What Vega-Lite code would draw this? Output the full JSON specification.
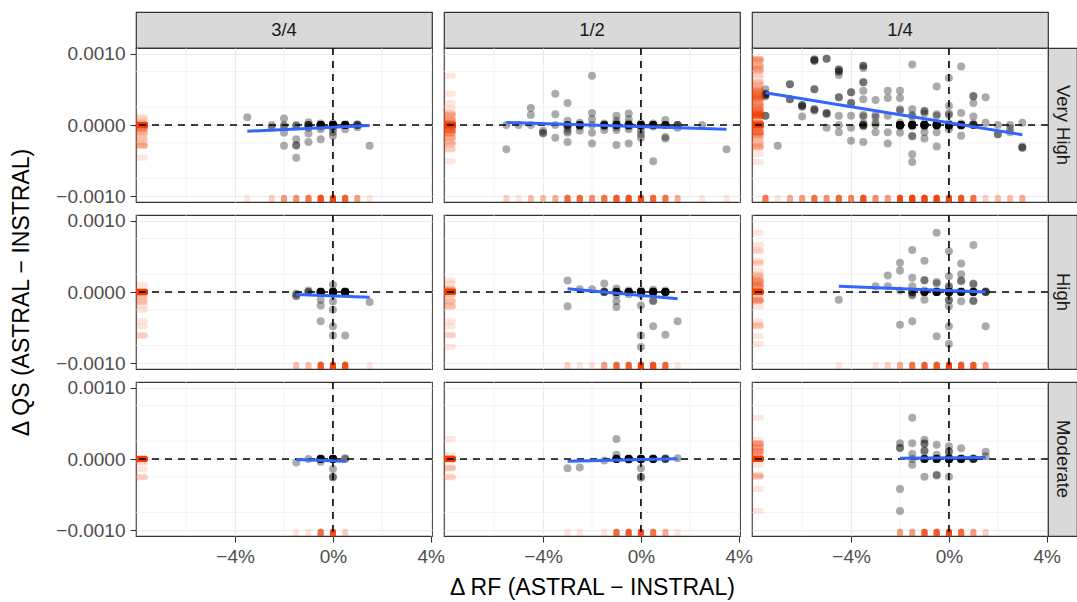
{
"$schema": "https://vega.github.io/schema/vega-lite/v6.json",
"background": "white",
"padding": {"left": 10, "top": 6, "right": 0, "bottom": 2},
"config": {
  "font": "Liberation Sans",
  "view": {"stroke": "#333333", "strokeWidth": 1.2},
  "axis": {"domain": false, "gridColor": "#ebebeb", "gridWidth": 1.1, "tickColor": "#333333", "tickSize": 6, "tickWidth": 1.1, "labelColor": "#4d4d4d", "labelFontSize": 19, "labelFont": "Liberation Sans", "titleFont": "Liberation Sans", "titleFontSize": 23, "titleFontWeight": "normal", "titleColor": "#000000", "labelPadding": 5}
},
"datasets": {
  "gx": [{"x": -8}, {"x": -6}, {"x": -2}, {"x": 2}],
  "gy": [{"y": -0.00075}, {"y": -0.00025}, {"y": 0.00025}, {"y": 0.00075}],
  "VHa": [{"x":-3.5,"y":0.00011},{"x":-2.5,"y":-0.00004},{"x":-2.5,"y":0},{"x":-2,"y":0.00009},{"x":-2,"y":0},{"x":-2,"y":-0.00002},{"x":-2,"y":-0.00011},{"x":-2,"y":-0.00029},{"x":-1.5,"y":0},{"x":-1.5,"y":-0.00001},{"x":-1.5,"y":-0.0002},{"x":-1.5,"y":-0.00029},{"x":-1.5,"y":-0.00028},{"x":-1.5,"y":-0.00046},{"x":-1,"y":0.00004},{"x":-1,"y":0},{"x":-1,"y":-0.00004},{"x":-1,"y":-0.00012},{"x":-1,"y":-0.00024},{"x":-0.5,"y":0},{"x":-0.5,"y":0},{"x":-0.5,"y":0.00002},{"x":-0.5,"y":-0.00002},{"x":-0.5,"y":-0.00006},{"x":-0.5,"y":-0.0002},{"x":-0.5,"y":0},{"x":0,"y":0},{"x":0,"y":0},{"x":0,"y":0.00002},{"x":0,"y":-0.00002},{"x":0,"y":0},{"x":0,"y":-0.00006},{"x":0,"y":-0.00015},{"x":0,"y":-0.0001},{"x":0.5,"y":0},{"x":0.5,"y":0},{"x":0.5,"y":0.00001},{"x":0.5,"y":-0.00006},{"x":0.5,"y":0},{"x":1,"y":0},{"x":1,"y":0.00001},{"x":1,"y":-0.00003},{"x":1.5,"y":-0.00029},
    {"x":-1,"y":0},{"x":-1,"y":0},{"x":-1,"y":0},
    {"x":-0.5,"y":0},{"x":-0.5,"y":0},{"x":-0.5,"y":0},{"x":-0.5,"y":0},{"x":-0.5,"y":0},{"x":-0.5,"y":0},{"x":-0.5,"y":0},{"x":-0.5,"y":0},
    {"x":0,"y":0},{"x":0,"y":0},{"x":0,"y":0},{"x":0,"y":0},{"x":0,"y":0},{"x":0,"y":0},{"x":0,"y":0},{"x":0,"y":0},{"x":0,"y":0},{"x":0,"y":0},{"x":0,"y":0},{"x":0,"y":0},
    {"x":0.5,"y":0},{"x":0.5,"y":0},{"x":0.5,"y":0},{"x":0.5,"y":0},{"x":0.5,"y":0},{"x":0.5,"y":0},{"x":0.5,"y":0},
    {"x":1,"y":0},{"x":1,"y":0}],
  "VHb": [{"x":-5.5,"y":0},{"x":-5.5,"y":-0.00034},{"x":-5,"y":0},{"x":-4.5,"y":0.00024},{"x":-4.5,"y":0.00014},{"x":-4.5,"y":0},{"x":-4,"y":-0.00011},{"x":-4,"y":-0.00012},{"x":-4,"y":-0.00008},{"x":-3.5,"y":0.00044},{"x":-3.5,"y":0.00015},{"x":-3.5,"y":-0.00018},{"x":-3.5,"y":0},{"x":-3,"y":0.00031},{"x":-3,"y":0.00006},{"x":-3,"y":0},{"x":-3,"y":-0.00004},{"x":-3,"y":-0.00008},{"x":-3,"y":-0.00011},{"x":-3,"y":-0.00024},{"x":-2.5,"y":0.00003},{"x":-2.5,"y":0},{"x":-2.5,"y":-0.00002},{"x":-2.5,"y":-0.00008},{"x":-2,"y":0.00069},{"x":-2,"y":0.00017},{"x":-2,"y":0.00008},{"x":-2,"y":0},{"x":-2,"y":-0.00011},{"x":-2,"y":-0.00026},{"x":-1.5,"y":0.00002},{"x":-1.5,"y":0},{"x":-1.5,"y":-0.00002},{"x":-1.5,"y":-0.00007},{"x":-1,"y":0.00013},{"x":-1,"y":0.00006},{"x":-1,"y":0.00002},{"x":-1,"y":0},{"x":-1,"y":-0.00003},{"x":-1,"y":-0.00007},{"x":-1,"y":-0.00028},{"x":-0.5,"y":0.00016},{"x":-0.5,"y":0.00008},{"x":-0.5,"y":0.00002},{"x":-0.5,"y":0},{"x":-0.5,"y":-0.00002},{"x":-0.5,"y":-0.00006},{"x":-0.5,"y":-0.00026},{"x":0,"y":0.00002},{"x":0,"y":0},{"x":0,"y":0},{"x":0,"y":-0.00002},{"x":0,"y":-0.00008},{"x":0,"y":-0.00013},{"x":0,"y":-0.00018},{"x":0.5,"y":0.00002},{"x":0.5,"y":0},{"x":0.5,"y":-0.00002},{"x":0.5,"y":-0.00051},{"x":1,"y":0.00007},{"x":1,"y":0},{"x":1,"y":-0.00019},{"x":1,"y":-0.00017},{"x":1.5,"y":0},{"x":1.5,"y":-0.00004},{"x":2.5,"y":0},{"x":3.5,"y":-0.00034},
    {"x":-3,"y":0},{"x":-3,"y":0},{"x":-3,"y":0},
    {"x":-2.5,"y":0},{"x":-2.5,"y":0},{"x":-2.5,"y":0},{"x":-2.5,"y":0},{"x":-2.5,"y":0},{"x":-2.5,"y":0},
    {"x":-1.5,"y":0},{"x":-1.5,"y":0},{"x":-1.5,"y":0},{"x":-1.5,"y":0},{"x":-1.5,"y":0},
    {"x":-1,"y":0},{"x":-1,"y":0},{"x":-1,"y":0},{"x":-1,"y":0},{"x":-1,"y":0},{"x":-1,"y":0},
    {"x":-0.5,"y":0},{"x":-0.5,"y":0},{"x":-0.5,"y":0},{"x":-0.5,"y":0},{"x":-0.5,"y":0},{"x":-0.5,"y":0},{"x":-0.5,"y":0},
    {"x":0,"y":0},{"x":0,"y":0},{"x":0,"y":0},{"x":0,"y":0},{"x":0,"y":0},{"x":0,"y":0},{"x":0,"y":0},{"x":0,"y":0},{"x":0,"y":0},{"x":0,"y":0},
    {"x":0.5,"y":0},{"x":0.5,"y":0},{"x":0.5,"y":0},{"x":0.5,"y":0},{"x":0.5,"y":0},{"x":0.5,"y":0},{"x":0.5,"y":0},
    {"x":1,"y":0},{"x":1,"y":0},{"x":1,"y":0},{"x":1,"y":0},{"x":1,"y":0},
    {"x":1.5,"y":0},{"x":1.5,"y":0}],
  "VHc": [{"x":-7.5,"y":0.00044},{"x":-7.5,"y":0.00042},{"x":-7.5,"y":0.00013},{"x":-7,"y":-0.00029},{"x":-6.5,"y":0.00057},{"x":-6.5,"y":0.00036},{"x":-6,"y":0.00028},{"x":-6,"y":0.00026},{"x":-6,"y":0.00012},{"x":-5.5,"y":0.00092},{"x":-5.5,"y":0.0009},{"x":-5.5,"y":0.0005},{"x":-5.5,"y":0.00022},{"x":-5.5,"y":0.0002},{"x":-5,"y":0.00093},{"x":-5,"y":0.00017},{"x":-5,"y":0.00015},{"x":-5,"y":-0.00004},{"x":-4.5,"y":0.00078},{"x":-4.5,"y":0.00075},{"x":-4.5,"y":0.0007},{"x":-4.5,"y":0.00039},{"x":-4.5,"y":0.00013},{"x":-4.5,"y":0},{"x":-4.5,"y":-0.0001},{"x":-4,"y":0.00046},{"x":-4,"y":0.00031},{"x":-4,"y":0.00013},{"x":-4,"y":-0.00004},{"x":-4,"y":-0.00022},{"x":-3.5,"y":0.00083},{"x":-3.5,"y":0.0008},{"x":-3.5,"y":0.0006},{"x":-3.5,"y":0.00048},{"x":-3.5,"y":0.00036},{"x":-3.5,"y":0.00014},{"x":-3.5,"y":0.00012},{"x":-3.5,"y":0.00002},{"x":-3.5,"y":0},{"x":-3.5,"y":-0.00002},{"x":-3.5,"y":-0.00024},{"x":-3,"y":0.00035},{"x":-3,"y":0.00014},{"x":-3,"y":0.00011},{"x":-3,"y":0.00003},{"x":-3,"y":0},{"x":-3,"y":-0.0001},{"x":-2.5,"y":0.00048},{"x":-2.5,"y":0.00038},{"x":-2.5,"y":0.00013},{"x":-2.5,"y":-0.0001},{"x":-2.5,"y":-0.00026},{"x":-2,"y":0.00048},{"x":-2,"y":0.00038},{"x":-2,"y":0.00022},{"x":-2,"y":0.0002},{"x":-2,"y":0.00003},{"x":-2,"y":0},{"x":-2,"y":0},{"x":-2,"y":-0.00002},{"x":-2,"y":-0.00011},{"x":-1.5,"y":0.00085},{"x":-1.5,"y":0.00022},{"x":-1.5,"y":0.00014},{"x":-1.5,"y":0.00012},{"x":-1.5,"y":0.00002},{"x":-1.5,"y":0},{"x":-1.5,"y":0},{"x":-1.5,"y":-0.00002},{"x":-1.5,"y":-0.00016},{"x":-1.5,"y":-0.00015},{"x":-1.5,"y":-0.00041},{"x":-1.5,"y":-0.00052},{"x":-1,"y":0.0002},{"x":-1,"y":0.00019},{"x":-1,"y":0.00016},{"x":-1,"y":0.00002},{"x":-1,"y":0},{"x":-1,"y":0},{"x":-1,"y":-0.00002},{"x":-1,"y":-0.0001},{"x":-1,"y":-0.00019},{"x":-0.5,"y":0.00054},{"x":-0.5,"y":0.00015},{"x":-0.5,"y":0.00013},{"x":-0.5,"y":0.00002},{"x":-0.5,"y":0},{"x":-0.5,"y":0},{"x":-0.5,"y":-0.00001},{"x":-0.5,"y":-0.0001},{"x":-0.5,"y":-0.0003},{"x":0,"y":0.00066},{"x":0,"y":0.00027},{"x":0,"y":0.00016},{"x":0,"y":0.00014},{"x":0,"y":0.00002},{"x":0,"y":0},{"x":0,"y":0},{"x":0,"y":-0.00002},{"x":0,"y":-0.00006},{"x":0.5,"y":0.00082},{"x":0.5,"y":0.00017},{"x":0.5,"y":0.00002},{"x":0.5,"y":0},{"x":0.5,"y":-0.00001},{"x":0.5,"y":-0.00015},{"x":1,"y":0.00041},{"x":1,"y":0.0004},{"x":1,"y":0.00031},{"x":1,"y":0.00012},{"x":1,"y":0.00002},{"x":1,"y":0},{"x":1.5,"y":0.00039},{"x":1.5,"y":0.00003},{"x":2,"y":0},{"x":2,"y":-0.00013},{"x":2.5,"y":0},{"x":3,"y":0.00003},{"x":3,"y":-0.00032},
    {"x":-7.5,"y":0.00044},{"x":-7.5,"y":0.0004},{"x":-7.5,"y":0.00013},{"x":-6.5,"y":0.00057},{"x":-6,"y":0.00028},{"x":-6,"y":0.00026},{"x":-5.5,"y":0.00092},{"x":-5.5,"y":0.00022},{"x":-5.5,"y":0.0005},{"x":-5,"y":0.00017},{"x":-5,"y":0.00093},{"x":-4.5,"y":0.00078},{"x":-4.5,"y":0.00039},{"x":-4,"y":0.00046},{"x":-4,"y":0.00031},{"x":-3.5,"y":0.00083},{"x":-3.5,"y":0.0006},
    {"x":-7.5,"y":0.0005},{"x":-7.5,"y":0.00042},{"x":-6.5,"y":0.00036},{"x":-5.5,"y":0.0009},{"x":-4.5,"y":0.00075},
    {"x":3,"y":-0.00032},{"x":3,"y":-0.0003},{"x":2,"y":-0.00013},{"x":2.5,"y":-0.00005},{"x":2.5,"y":-0.0001},
    {"x":-3.5,"y":0},{"x":-3.5,"y":0},
    {"x":-2,"y":0},{"x":-2,"y":0},{"x":-2,"y":0},{"x":-2,"y":0},{"x":-2,"y":0},{"x":-2,"y":0},{"x":-2,"y":0},{"x":-2,"y":0},
    {"x":-1.5,"y":0},{"x":-1.5,"y":0},{"x":-1.5,"y":0},{"x":-1.5,"y":0},{"x":-1.5,"y":0},{"x":-1.5,"y":0},{"x":-1.5,"y":0},{"x":-1.5,"y":0},
    {"x":-1,"y":0},{"x":-1,"y":0},{"x":-1,"y":0},{"x":-1,"y":0},{"x":-1,"y":0},{"x":-1,"y":0},{"x":-1,"y":0},{"x":-1,"y":0},{"x":-1,"y":0},{"x":-1,"y":0},
    {"x":-0.5,"y":0},{"x":-0.5,"y":0},{"x":-0.5,"y":0},{"x":-0.5,"y":0},{"x":-0.5,"y":0},{"x":-0.5,"y":0},{"x":-0.5,"y":0},{"x":-0.5,"y":0},{"x":-0.5,"y":0},{"x":-0.5,"y":0},
    {"x":0,"y":0},{"x":0,"y":0},{"x":0,"y":0},{"x":0,"y":0},{"x":0,"y":0},{"x":0,"y":0},{"x":0,"y":0},{"x":0,"y":0},{"x":0,"y":0},{"x":0,"y":0},
    {"x":0.5,"y":0},{"x":0.5,"y":0},{"x":0.5,"y":0},{"x":0.5,"y":0},{"x":0.5,"y":0},{"x":0.5,"y":0},{"x":0.5,"y":0},{"x":0.5,"y":0},
    {"x":1,"y":0},{"x":1,"y":0},{"x":1,"y":0}],
  "Ha": [{"x":-1.5,"y":-0.00006},{"x":-1.5,"y":-0.00005},{"x":-1.5,"y":-0.00002},{"x":-1,"y":0.00002},{"x":-0.5,"y":0.00001},{"x":-0.5,"y":0},{"x":-0.5,"y":-0.00001},{"x":-0.5,"y":-0.00011},{"x":-0.5,"y":-0.00019},{"x":-0.5,"y":-0.00041},{"x":0,"y":0.0001},{"x":0,"y":0.00001},{"x":0,"y":0},{"x":0,"y":0},{"x":0,"y":-0.00002},{"x":0,"y":-0.00013},{"x":0,"y":-0.00025},{"x":0,"y":-0.00048},{"x":0,"y":-0.00061},{"x":0.5,"y":0.00001},{"x":0.5,"y":0},{"x":0.5,"y":-0.00001},{"x":0.5,"y":-0.00061},{"x":1.5,"y":-0.00014},
    {"x":-1,"y":0},{"x":-1,"y":0},
    {"x":-0.5,"y":0},{"x":-0.5,"y":0},{"x":-0.5,"y":0},{"x":-0.5,"y":0},{"x":-0.5,"y":0},{"x":-0.5,"y":0},{"x":-0.5,"y":0},{"x":-0.5,"y":0},
    {"x":0,"y":0},{"x":0,"y":0},{"x":0,"y":0},{"x":0,"y":0},{"x":0,"y":0},{"x":0,"y":0},{"x":0,"y":0},{"x":0,"y":0},{"x":0,"y":0},{"x":0,"y":0},
    {"x":0.5,"y":0},{"x":0.5,"y":0},{"x":0.5,"y":0},{"x":0.5,"y":0},{"x":0.5,"y":0},{"x":0.5,"y":0},{"x":0.5,"y":0},{"x":0.5,"y":0},{"x":0.5,"y":0},{"x":0.5,"y":0},{"x":0.5,"y":0},{"x":0.5,"y":0}],
  "Hb": [{"x":-3,"y":0.00016},{"x":-3,"y":-0.0002},{"x":-2.5,"y":0.00004},{"x":-2,"y":0.00004},{"x":-1.5,"y":0.00012},{"x":-1.5,"y":0.00001},{"x":-1.5,"y":0},{"x":-1,"y":0.00005},{"x":-1,"y":0.00001},{"x":-1,"y":0},{"x":-1,"y":-0.00004},{"x":-1,"y":-0.00013},{"x":-1,"y":-0.00021},{"x":-0.5,"y":0.00002},{"x":-0.5,"y":0},{"x":-0.5,"y":0},{"x":-0.5,"y":-0.00003},{"x":0,"y":0.00002},{"x":0,"y":0},{"x":0,"y":0},{"x":0,"y":-0.00004},{"x":0,"y":-0.00019},{"x":0,"y":-0.00061},{"x":0,"y":-0.00077},{"x":0.5,"y":0.00003},{"x":0.5,"y":0.00001},{"x":0.5,"y":-0.00013},{"x":0.5,"y":-0.00012},{"x":0.5,"y":-0.00048},{"x":1,"y":0.00002},{"x":1,"y":0},{"x":1,"y":-0.0006},{"x":1.5,"y":-0.00041},
    {"x":-1.5,"y":0},{"x":-1.5,"y":0},
    {"x":-1,"y":0},{"x":-1,"y":0},{"x":-1,"y":0},{"x":-1,"y":0},{"x":-1,"y":0},
    {"x":-0.5,"y":0},{"x":-0.5,"y":0},{"x":-0.5,"y":0},{"x":-0.5,"y":0},{"x":-0.5,"y":0},{"x":-0.5,"y":0},{"x":-0.5,"y":0},{"x":-0.5,"y":0},
    {"x":0,"y":0},{"x":0,"y":0},{"x":0,"y":0},{"x":0,"y":0},{"x":0,"y":0},{"x":0,"y":0},{"x":0,"y":0},{"x":0,"y":0},{"x":0,"y":0},{"x":0,"y":0},{"x":0,"y":0},{"x":0,"y":0},{"x":0,"y":0},{"x":0,"y":0},{"x":0,"y":0},{"x":0,"y":0},
    {"x":0.5,"y":0},{"x":0.5,"y":0},{"x":0.5,"y":0},{"x":0.5,"y":0},{"x":0.5,"y":0},{"x":0.5,"y":0},{"x":0.5,"y":0},{"x":0.5,"y":0},{"x":0.5,"y":0},{"x":0.5,"y":0},
    {"x":1,"y":0},{"x":1,"y":0},{"x":1,"y":0},{"x":1,"y":0},{"x":1,"y":0},{"x":1,"y":0},{"x":1,"y":0},{"x":1,"y":0}],
  "Hc": [{"x":-4.5,"y":-0.00011},{"x":-3,"y":0.00008},{"x":-2.5,"y":0.00023},{"x":-2.5,"y":0.00008},{"x":-2,"y":0.00041},{"x":-2,"y":0.0003},{"x":-2,"y":0.00002},{"x":-2,"y":-0.00046},{"x":-1.5,"y":0.00059},{"x":-1.5,"y":0.0002},{"x":-1.5,"y":0.00008},{"x":-1.5,"y":-0.00003},{"x":-1.5,"y":-0.00005},{"x":-1.5,"y":-0.00041},{"x":-1,"y":0.00044},{"x":-1,"y":0.00017},{"x":-1,"y":0.00016},{"x":-1,"y":0.00002},{"x":-1,"y":0},{"x":-1,"y":-0.00011},{"x":-0.5,"y":0.00083},{"x":-0.5,"y":0.00014},{"x":-0.5,"y":0.00012},{"x":-0.5,"y":0.00001},{"x":-0.5,"y":0},{"x":-0.5,"y":-0.00062},{"x":0,"y":0.00057},{"x":0,"y":0.00022},{"x":0,"y":0.00008},{"x":0,"y":0.00007},{"x":0,"y":0.00001},{"x":0,"y":0},{"x":0,"y":0},{"x":0,"y":-0.00011},{"x":0,"y":-0.00012},{"x":0,"y":-0.0002},{"x":0,"y":-0.00048},{"x":0,"y":-0.00073},{"x":0.5,"y":0.0004},{"x":0.5,"y":0.00025},{"x":0.5,"y":0.00016},{"x":0.5,"y":0.00015},{"x":0.5,"y":0.00001},{"x":0.5,"y":0},{"x":0.5,"y":-0.00013},{"x":1,"y":0.00066},{"x":1,"y":0.00012},{"x":1,"y":0.00011},{"x":1,"y":0.00001},{"x":1,"y":0},{"x":1,"y":-0.00013},{"x":1,"y":-0.00012},{"x":1.5,"y":0.00001},{"x":1.5,"y":0},{"x":1.5,"y":-0.00048},
    {"x":-1.5,"y":0},{"x":-1.5,"y":0},{"x":-1.5,"y":0},
    {"x":-1,"y":0},{"x":-1,"y":0},{"x":-1,"y":0},{"x":-1,"y":0},{"x":-1,"y":0},{"x":-1,"y":0},
    {"x":-0.5,"y":0},{"x":-0.5,"y":0},{"x":-0.5,"y":0},{"x":-0.5,"y":0},{"x":-0.5,"y":0},{"x":-0.5,"y":0},{"x":-0.5,"y":0},{"x":-0.5,"y":0},
    {"x":0,"y":0},{"x":0,"y":0},{"x":0,"y":0},{"x":0,"y":0},{"x":0,"y":0},{"x":0,"y":0},{"x":0,"y":0},{"x":0,"y":0},{"x":0,"y":0},{"x":0,"y":0},
    {"x":0.5,"y":0},{"x":0.5,"y":0},{"x":0.5,"y":0},{"x":0.5,"y":0},{"x":0.5,"y":0},{"x":0.5,"y":0},{"x":0.5,"y":0},
    {"x":1,"y":0},{"x":1,"y":0},{"x":1,"y":0},{"x":1,"y":0},{"x":1,"y":0},{"x":1,"y":0},
    {"x":1.5,"y":0},{"x":1.5,"y":0}],
  "Ma": [{"x":-1.5,"y":-0.00005},{"x":-1,"y":0},{"x":-0.5,"y":0},{"x":-0.5,"y":0},{"x":-0.5,"y":-0.00004},{"x":-0.5,"y":0.00001},{"x":0,"y":0},{"x":0,"y":0},{"x":0,"y":0.00001},{"x":0,"y":-0.00014},{"x":0,"y":-0.00026},{"x":0,"y":-0.00025},{"x":0.5,"y":0},{"x":0.5,"y":0.00001},
    {"x":-0.5,"y":0},{"x":-0.5,"y":0},{"x":-0.5,"y":0},{"x":-0.5,"y":0},{"x":-0.5,"y":0},{"x":-0.5,"y":0},
    {"x":0,"y":0},{"x":0,"y":0},{"x":0,"y":0},{"x":0,"y":0},{"x":0,"y":0},{"x":0,"y":0},{"x":0,"y":0},{"x":0,"y":0},{"x":0,"y":0},{"x":0,"y":0}],
  "Mb": [{"x":-3,"y":-0.00013},{"x":-2.5,"y":-0.00012},{"x":-1.5,"y":-0.00002},{"x":-1,"y":0.00028},{"x":-1,"y":0.00006},{"x":-1,"y":0},{"x":-1,"y":0},{"x":-1,"y":0.00001},{"x":-0.5,"y":0},{"x":-0.5,"y":0},{"x":-0.5,"y":0.00001},{"x":-0.5,"y":-0.00001},{"x":0,"y":0},{"x":0,"y":0},{"x":0,"y":0.00001},{"x":0,"y":-0.00013},{"x":0,"y":-0.00026},{"x":0,"y":-0.00025},{"x":0.5,"y":0},{"x":0.5,"y":0},{"x":0.5,"y":0.00001},{"x":1,"y":0},{"x":1,"y":0.00001},{"x":1.5,"y":0.00001},
    {"x":-1,"y":0},{"x":-1,"y":0},{"x":-1,"y":0},{"x":-1,"y":0},{"x":-1,"y":0},
    {"x":-0.5,"y":0},{"x":-0.5,"y":0},{"x":-0.5,"y":0},{"x":-0.5,"y":0},{"x":-0.5,"y":0},{"x":-0.5,"y":0},{"x":-0.5,"y":0},{"x":-0.5,"y":0},
    {"x":0,"y":0},{"x":0,"y":0},{"x":0,"y":0},{"x":0,"y":0},{"x":0,"y":0},{"x":0,"y":0},{"x":0,"y":0},{"x":0,"y":0},{"x":0,"y":0},{"x":0,"y":0},
    {"x":0.5,"y":0},{"x":0.5,"y":0},{"x":0.5,"y":0},{"x":0.5,"y":0},{"x":0.5,"y":0},{"x":0.5,"y":0},
    {"x":1,"y":0},{"x":1,"y":0}],
  "Mc": [{"x":-2,"y":0.00022},{"x":-2,"y":0.00016},{"x":-2,"y":0.00015},{"x":-2,"y":-0.00042},{"x":-2,"y":-0.00073},{"x":-1.5,"y":0.00058},{"x":-1.5,"y":0.00022},{"x":-1.5,"y":0.00007},{"x":-1.5,"y":0},{"x":-1.5,"y":-0.00008},{"x":-1,"y":0.00027},{"x":-1,"y":0.00022},{"x":-1,"y":0.00021},{"x":-1,"y":0.00012},{"x":-1,"y":0.00011},{"x":-1,"y":0.00001},{"x":-1,"y":0},{"x":-1,"y":0},{"x":-1,"y":-0.00025},{"x":-0.5,"y":0.0002},{"x":-0.5,"y":0.00006},{"x":-0.5,"y":0.00001},{"x":-0.5,"y":0},{"x":-0.5,"y":0},{"x":-0.5,"y":-0.00023},{"x":-0.5,"y":-0.00022},{"x":0,"y":0.00018},{"x":0,"y":0.00011},{"x":0,"y":0.0001},{"x":0,"y":0.00002},{"x":0,"y":0.00001},{"x":0,"y":0},{"x":0,"y":0},{"x":0,"y":0},{"x":0,"y":-0.00025},{"x":0.5,"y":0.00015},{"x":0.5,"y":0.00001},{"x":0.5,"y":0},{"x":0.5,"y":0},{"x":1,"y":0.00001},{"x":1,"y":0},{"x":1,"y":0},{"x":1.5,"y":0.0001},{"x":1.5,"y":0.00004},
    {"x":-1,"y":0},{"x":-1,"y":0},{"x":-1,"y":0},{"x":-1,"y":0},
    {"x":-0.5,"y":0},{"x":-0.5,"y":0},{"x":-0.5,"y":0},{"x":-0.5,"y":0},{"x":-0.5,"y":0},{"x":-0.5,"y":0},
    {"x":0,"y":0},{"x":0,"y":0},{"x":0,"y":0},{"x":0,"y":0},{"x":0,"y":0},{"x":0,"y":0},{"x":0,"y":0},{"x":0,"y":0},{"x":0,"y":0},{"x":0,"y":0},
    {"x":0.5,"y":0},{"x":0.5,"y":0},{"x":0.5,"y":0},{"x":0.5,"y":0},{"x":0.5,"y":0},{"x":0.5,"y":0},
    {"x":1,"y":0},{"x":1,"y":0}]
},
"columns": 6,
"spacing": 0,
"bounds": "flush",
"align": "each",
"concat": [
  {"width":296,"height":36,"data":{"values":[{"t":"3/4"}]},"mark":{"type":"text","fontSize":18.5,"color":"#1a1a1a"},"encoding":{"text":{"field":"t"}},"view":{"fill":"#d9d9d9","stroke":"#333333","strokeWidth":1.2}},
  {"width":12,"height":1,"data":{"values":[{}]},"mark":"text","encoding":{"text":{"value":""}},"view":{"stroke":null}},
  {"width":296,"height":36,"data":{"values":[{"t":"1/2"}]},"mark":{"type":"text","fontSize":18.5,"color":"#1a1a1a"},"encoding":{"text":{"field":"t"}},"view":{"fill":"#d9d9d9","stroke":"#333333","strokeWidth":1.2}},
  {"width":12,"height":1,"data":{"values":[{}]},"mark":"text","encoding":{"text":{"value":""}},"view":{"stroke":null}},
  {"width":296,"height":36,"data":{"values":[{"t":"1/4"}]},"mark":{"type":"text","fontSize":18.5,"color":"#1a1a1a"},"encoding":{"text":{"field":"t"}},"view":{"fill":"#d9d9d9","stroke":"#333333","strokeWidth":1.2}},
  {"width":1,"height":1,"data":{"values":[{}]},"mark":"text","encoding":{"text":{"value":""}},"view":{"stroke":null}},

  {"width":296,"height":154,"layer":[
    {"data":{"name":"gx"},"mark":{"type":"rule","stroke":"#ebebeb","strokeWidth":0.6},"encoding":{"x":{"field":"x","type":"quantitative","scale":{"domain":[-8.05,4.05],"nice":false,"zero":false}}}},
    {"data":{"name":"gy"},"mark":{"type":"rule","stroke":"#ebebeb","strokeWidth":0.6},"encoding":{"y":{"field":"y","type":"quantitative","scale":{"domain":[-0.00108,0.00108],"nice":false,"zero":false}}}},
    {"data":{"name":"VHa"},"mark":{"type":"circle","size":64,"color":"#000000","opacity":0.33,"clip":true},"encoding":{"x":{"field":"x","type":"quantitative","scale":{"domain":[-8.05,4.05],"nice":false,"zero":false},"axis":{"values":[-4,0,4],"labels":false,"ticks":false,"title":null}},"y":{"field":"y","type":"quantitative","scale":{"domain":[-0.00108,0.00108],"nice":false,"zero":false},"axis":{"values":[-0.001,-0.0005,0,0.0005,0.001],"labelExpr":"replace(format(datum.value, '.4f'), '-', '−')","title":null}}}},
    {"data":{"name":"VHa"},"mark":{"type":"rule","color":"#ee4000","opacity":0.13,"strokeWidth":6,"strokeCap":"round","clip":true},"encoding":{"x":{"field":"x","type":"quantitative","scale":{"domain":[-8.05,4.05],"nice":false,"zero":false}},"y":{"datum":-0.00108,"type":"quantitative","scale":{"domain":[-0.00108,0.00108],"nice":false,"zero":false}},"y2":{"datum":-0.00102}}},
    {"data":{"name":"VHa"},"mark":{"type":"rule","color":"#ee4000","opacity":0.13,"strokeWidth":6,"strokeCap":"round","clip":true},"encoding":{"y":{"field":"y","type":"quantitative","scale":{"domain":[-0.00108,0.00108],"nice":false,"zero":false}},"x":{"datum":-8.05,"type":"quantitative","scale":{"domain":[-8.05,4.05],"nice":false,"zero":false}},"x2":{"datum":-7.69}}},
    {"data":{"values":[{}]},"mark":{"type":"rule","strokeDash":[7,6],"strokeWidth":1.6,"color":"#000000"},"encoding":{"x":{"datum":0,"type":"quantitative","scale":{"domain":[-8.05,4.05],"nice":false,"zero":false}}}},
    {"data":{"values":[{}]},"mark":{"type":"rule","strokeDash":[7,6],"strokeWidth":1.6,"color":"#000000"},"encoding":{"y":{"datum":0,"type":"quantitative","scale":{"domain":[-0.00108,0.00108],"nice":false,"zero":false}}}},
    {"data":{"name":"VHa"},"transform":[{"regression":"y","on":"x"}],"mark":{"type":"line","color":"#3366ff","strokeWidth":3,"clip":true},"encoding":{"x":{"field":"x","type":"quantitative","scale":{"domain":[-8.05,4.05],"nice":false,"zero":false}},"y":{"field":"y","type":"quantitative","scale":{"domain":[-0.00108,0.00108],"nice":false,"zero":false}}}}
  ]},
  {"width":12,"height":1,"data":{"values":[{}]},"mark":"text","encoding":{"text":{"value":""}},"view":{"stroke":null}},
  {"width":296,"height":154,"layer":[
    {"data":{"name":"gx"},"mark":{"type":"rule","stroke":"#ebebeb","strokeWidth":0.6},"encoding":{"x":{"field":"x","type":"quantitative","scale":{"domain":[-8.05,4.05],"nice":false,"zero":false}}}},
    {"data":{"name":"gy"},"mark":{"type":"rule","stroke":"#ebebeb","strokeWidth":0.6},"encoding":{"y":{"field":"y","type":"quantitative","scale":{"domain":[-0.00108,0.00108],"nice":false,"zero":false}}}},
    {"data":{"name":"VHb"},"mark":{"type":"circle","size":64,"color":"#000000","opacity":0.33,"clip":true},"encoding":{"x":{"field":"x","type":"quantitative","scale":{"domain":[-8.05,4.05],"nice":false,"zero":false},"axis":{"values":[-4,0,4],"labels":false,"ticks":false,"title":null}},"y":{"field":"y","type":"quantitative","scale":{"domain":[-0.00108,0.00108],"nice":false,"zero":false},"axis":{"values":[-0.001,-0.0005,0,0.0005,0.001],"labels":false,"ticks":false,"title":null}}}},
    {"data":{"name":"VHb"},"mark":{"type":"rule","color":"#ee4000","opacity":0.13,"strokeWidth":6,"strokeCap":"round","clip":true},"encoding":{"x":{"field":"x","type":"quantitative","scale":{"domain":[-8.05,4.05],"nice":false,"zero":false}},"y":{"datum":-0.00108,"type":"quantitative","scale":{"domain":[-0.00108,0.00108],"nice":false,"zero":false}},"y2":{"datum":-0.00102}}},
    {"data":{"name":"VHb"},"mark":{"type":"rule","color":"#ee4000","opacity":0.13,"strokeWidth":6,"strokeCap":"round","clip":true},"encoding":{"y":{"field":"y","type":"quantitative","scale":{"domain":[-0.00108,0.00108],"nice":false,"zero":false}},"x":{"datum":-8.05,"type":"quantitative","scale":{"domain":[-8.05,4.05],"nice":false,"zero":false}},"x2":{"datum":-7.69}}},
    {"data":{"values":[{}]},"mark":{"type":"rule","strokeDash":[7,6],"strokeWidth":1.6,"color":"#000000"},"encoding":{"x":{"datum":0,"type":"quantitative","scale":{"domain":[-8.05,4.05],"nice":false,"zero":false}}}},
    {"data":{"values":[{}]},"mark":{"type":"rule","strokeDash":[7,6],"strokeWidth":1.6,"color":"#000000"},"encoding":{"y":{"datum":0,"type":"quantitative","scale":{"domain":[-0.00108,0.00108],"nice":false,"zero":false}}}},
    {"data":{"name":"VHb"},"transform":[{"regression":"y","on":"x"}],"mark":{"type":"line","color":"#3366ff","strokeWidth":3,"clip":true},"encoding":{"x":{"field":"x","type":"quantitative","scale":{"domain":[-8.05,4.05],"nice":false,"zero":false}},"y":{"field":"y","type":"quantitative","scale":{"domain":[-0.00108,0.00108],"nice":false,"zero":false}}}}
  ]},
  {"width":12,"height":1,"data":{"values":[{}]},"mark":"text","encoding":{"text":{"value":""}},"view":{"stroke":null}},
  {"width":296,"height":154,"layer":[
    {"data":{"name":"gx"},"mark":{"type":"rule","stroke":"#ebebeb","strokeWidth":0.6},"encoding":{"x":{"field":"x","type":"quantitative","scale":{"domain":[-8.05,4.05],"nice":false,"zero":false}}}},
    {"data":{"name":"gy"},"mark":{"type":"rule","stroke":"#ebebeb","strokeWidth":0.6},"encoding":{"y":{"field":"y","type":"quantitative","scale":{"domain":[-0.00108,0.00108],"nice":false,"zero":false}}}},
    {"data":{"name":"VHc"},"mark":{"type":"circle","size":64,"color":"#000000","opacity":0.33,"clip":true},"encoding":{"x":{"field":"x","type":"quantitative","scale":{"domain":[-8.05,4.05],"nice":false,"zero":false},"axis":{"values":[-4,0,4],"labels":false,"ticks":false,"title":null}},"y":{"field":"y","type":"quantitative","scale":{"domain":[-0.00108,0.00108],"nice":false,"zero":false},"axis":{"values":[-0.001,-0.0005,0,0.0005,0.001],"labels":false,"ticks":false,"title":null}}}},
    {"data":{"name":"VHc"},"mark":{"type":"rule","color":"#ee4000","opacity":0.13,"strokeWidth":6,"strokeCap":"round","clip":true},"encoding":{"x":{"field":"x","type":"quantitative","scale":{"domain":[-8.05,4.05],"nice":false,"zero":false}},"y":{"datum":-0.00108,"type":"quantitative","scale":{"domain":[-0.00108,0.00108],"nice":false,"zero":false}},"y2":{"datum":-0.00102}}},
    {"data":{"name":"VHc"},"mark":{"type":"rule","color":"#ee4000","opacity":0.13,"strokeWidth":6,"strokeCap":"round","clip":true},"encoding":{"y":{"field":"y","type":"quantitative","scale":{"domain":[-0.00108,0.00108],"nice":false,"zero":false}},"x":{"datum":-8.05,"type":"quantitative","scale":{"domain":[-8.05,4.05],"nice":false,"zero":false}},"x2":{"datum":-7.69}}},
    {"data":{"values":[{}]},"mark":{"type":"rule","strokeDash":[7,6],"strokeWidth":1.6,"color":"#000000"},"encoding":{"x":{"datum":0,"type":"quantitative","scale":{"domain":[-8.05,4.05],"nice":false,"zero":false}}}},
    {"data":{"values":[{}]},"mark":{"type":"rule","strokeDash":[7,6],"strokeWidth":1.6,"color":"#000000"},"encoding":{"y":{"datum":0,"type":"quantitative","scale":{"domain":[-0.00108,0.00108],"nice":false,"zero":false}}}},
    {"data":{"name":"VHc"},"transform":[{"regression":"y","on":"x"}],"mark":{"type":"line","color":"#3366ff","strokeWidth":3,"clip":true},"encoding":{"x":{"field":"x","type":"quantitative","scale":{"domain":[-8.05,4.05],"nice":false,"zero":false}},"y":{"field":"y","type":"quantitative","scale":{"domain":[-0.00108,0.00108],"nice":false,"zero":false}}}}
  ]},
  {"width":29,"height":154,"data":{"values":[{"t":"Very High"}]},"mark":{"type":"text","fontSize":18.5,"color":"#1a1a1a","angle":90},"encoding":{"text":{"field":"t"}},"view":{"fill":"#d9d9d9","stroke":"#333333","strokeWidth":1.2}},

  {"width":1,"height":13,"data":{"values":[{}]},"mark":"text","encoding":{"text":{"value":""}},"view":{"stroke":null}},
  {"width":1,"height":13,"data":{"values":[{}]},"mark":"text","encoding":{"text":{"value":""}},"view":{"stroke":null}},
  {"width":1,"height":13,"data":{"values":[{}]},"mark":"text","encoding":{"text":{"value":""}},"view":{"stroke":null}},
  {"width":1,"height":13,"data":{"values":[{}]},"mark":"text","encoding":{"text":{"value":""}},"view":{"stroke":null}},
  {"width":1,"height":13,"data":{"values":[{}]},"mark":"text","encoding":{"text":{"value":""}},"view":{"stroke":null}},
  {"width":1,"height":13,"data":{"values":[{}]},"mark":"text","encoding":{"text":{"value":""}},"view":{"stroke":null}},

  {"width":296,"height":154,"layer":[
    {"data":{"name":"gx"},"mark":{"type":"rule","stroke":"#ebebeb","strokeWidth":0.6},"encoding":{"x":{"field":"x","type":"quantitative","scale":{"domain":[-8.05,4.05],"nice":false,"zero":false}}}},
    {"data":{"name":"gy"},"mark":{"type":"rule","stroke":"#ebebeb","strokeWidth":0.6},"encoding":{"y":{"field":"y","type":"quantitative","scale":{"domain":[-0.00108,0.00108],"nice":false,"zero":false}}}},
    {"data":{"name":"Ha"},"mark":{"type":"circle","size":64,"color":"#000000","opacity":0.33,"clip":true},"encoding":{"x":{"field":"x","type":"quantitative","scale":{"domain":[-8.05,4.05],"nice":false,"zero":false},"axis":{"values":[-4,0,4],"labels":false,"ticks":false,"title":null}},"y":{"field":"y","type":"quantitative","scale":{"domain":[-0.00108,0.00108],"nice":false,"zero":false},"axis":{"values":[-0.001,-0.0005,0,0.0005,0.001],"labelExpr":"replace(format(datum.value, '.4f'), '-', '−')","title":"Δ QS (ASTRAL − INSTRAL)","titlePadding":22}}}},
    {"data":{"name":"Ha"},"mark":{"type":"rule","color":"#ee4000","opacity":0.13,"strokeWidth":6,"strokeCap":"round","clip":true},"encoding":{"x":{"field":"x","type":"quantitative","scale":{"domain":[-8.05,4.05],"nice":false,"zero":false}},"y":{"datum":-0.00108,"type":"quantitative","scale":{"domain":[-0.00108,0.00108],"nice":false,"zero":false}},"y2":{"datum":-0.00102}}},
    {"data":{"name":"Ha"},"mark":{"type":"rule","color":"#ee4000","opacity":0.13,"strokeWidth":6,"strokeCap":"round","clip":true},"encoding":{"y":{"field":"y","type":"quantitative","scale":{"domain":[-0.00108,0.00108],"nice":false,"zero":false}},"x":{"datum":-8.05,"type":"quantitative","scale":{"domain":[-8.05,4.05],"nice":false,"zero":false}},"x2":{"datum":-7.69}}},
    {"data":{"values":[{}]},"mark":{"type":"rule","strokeDash":[7,6],"strokeWidth":1.6,"color":"#000000"},"encoding":{"x":{"datum":0,"type":"quantitative","scale":{"domain":[-8.05,4.05],"nice":false,"zero":false}}}},
    {"data":{"values":[{}]},"mark":{"type":"rule","strokeDash":[7,6],"strokeWidth":1.6,"color":"#000000"},"encoding":{"y":{"datum":0,"type":"quantitative","scale":{"domain":[-0.00108,0.00108],"nice":false,"zero":false}}}},
    {"data":{"name":"Ha"},"transform":[{"regression":"y","on":"x"}],"mark":{"type":"line","color":"#3366ff","strokeWidth":3,"clip":true},"encoding":{"x":{"field":"x","type":"quantitative","scale":{"domain":[-8.05,4.05],"nice":false,"zero":false}},"y":{"field":"y","type":"quantitative","scale":{"domain":[-0.00108,0.00108],"nice":false,"zero":false}}}}
  ]},
  {"width":12,"height":1,"data":{"values":[{}]},"mark":"text","encoding":{"text":{"value":""}},"view":{"stroke":null}},
  {"width":296,"height":154,"layer":[
    {"data":{"name":"gx"},"mark":{"type":"rule","stroke":"#ebebeb","strokeWidth":0.6},"encoding":{"x":{"field":"x","type":"quantitative","scale":{"domain":[-8.05,4.05],"nice":false,"zero":false}}}},
    {"data":{"name":"gy"},"mark":{"type":"rule","stroke":"#ebebeb","strokeWidth":0.6},"encoding":{"y":{"field":"y","type":"quantitative","scale":{"domain":[-0.00108,0.00108],"nice":false,"zero":false}}}},
    {"data":{"name":"Hb"},"mark":{"type":"circle","size":64,"color":"#000000","opacity":0.33,"clip":true},"encoding":{"x":{"field":"x","type":"quantitative","scale":{"domain":[-8.05,4.05],"nice":false,"zero":false},"axis":{"values":[-4,0,4],"labels":false,"ticks":false,"title":null}},"y":{"field":"y","type":"quantitative","scale":{"domain":[-0.00108,0.00108],"nice":false,"zero":false},"axis":{"values":[-0.001,-0.0005,0,0.0005,0.001],"labels":false,"ticks":false,"title":null}}}},
    {"data":{"name":"Hb"},"mark":{"type":"rule","color":"#ee4000","opacity":0.13,"strokeWidth":6,"strokeCap":"round","clip":true},"encoding":{"x":{"field":"x","type":"quantitative","scale":{"domain":[-8.05,4.05],"nice":false,"zero":false}},"y":{"datum":-0.00108,"type":"quantitative","scale":{"domain":[-0.00108,0.00108],"nice":false,"zero":false}},"y2":{"datum":-0.00102}}},
    {"data":{"name":"Hb"},"mark":{"type":"rule","color":"#ee4000","opacity":0.13,"strokeWidth":6,"strokeCap":"round","clip":true},"encoding":{"y":{"field":"y","type":"quantitative","scale":{"domain":[-0.00108,0.00108],"nice":false,"zero":false}},"x":{"datum":-8.05,"type":"quantitative","scale":{"domain":[-8.05,4.05],"nice":false,"zero":false}},"x2":{"datum":-7.69}}},
    {"data":{"values":[{}]},"mark":{"type":"rule","strokeDash":[7,6],"strokeWidth":1.6,"color":"#000000"},"encoding":{"x":{"datum":0,"type":"quantitative","scale":{"domain":[-8.05,4.05],"nice":false,"zero":false}}}},
    {"data":{"values":[{}]},"mark":{"type":"rule","strokeDash":[7,6],"strokeWidth":1.6,"color":"#000000"},"encoding":{"y":{"datum":0,"type":"quantitative","scale":{"domain":[-0.00108,0.00108],"nice":false,"zero":false}}}},
    {"data":{"name":"Hb"},"transform":[{"regression":"y","on":"x"}],"mark":{"type":"line","color":"#3366ff","strokeWidth":3,"clip":true},"encoding":{"x":{"field":"x","type":"quantitative","scale":{"domain":[-8.05,4.05],"nice":false,"zero":false}},"y":{"field":"y","type":"quantitative","scale":{"domain":[-0.00108,0.00108],"nice":false,"zero":false}}}}
  ]},
  {"width":12,"height":1,"data":{"values":[{}]},"mark":"text","encoding":{"text":{"value":""}},"view":{"stroke":null}},
  {"width":296,"height":154,"layer":[
    {"data":{"name":"gx"},"mark":{"type":"rule","stroke":"#ebebeb","strokeWidth":0.6},"encoding":{"x":{"field":"x","type":"quantitative","scale":{"domain":[-8.05,4.05],"nice":false,"zero":false}}}},
    {"data":{"name":"gy"},"mark":{"type":"rule","stroke":"#ebebeb","strokeWidth":0.6},"encoding":{"y":{"field":"y","type":"quantitative","scale":{"domain":[-0.00108,0.00108],"nice":false,"zero":false}}}},
    {"data":{"name":"Hc"},"mark":{"type":"circle","size":64,"color":"#000000","opacity":0.33,"clip":true},"encoding":{"x":{"field":"x","type":"quantitative","scale":{"domain":[-8.05,4.05],"nice":false,"zero":false},"axis":{"values":[-4,0,4],"labels":false,"ticks":false,"title":null}},"y":{"field":"y","type":"quantitative","scale":{"domain":[-0.00108,0.00108],"nice":false,"zero":false},"axis":{"values":[-0.001,-0.0005,0,0.0005,0.001],"labels":false,"ticks":false,"title":null}}}},
    {"data":{"name":"Hc"},"mark":{"type":"rule","color":"#ee4000","opacity":0.13,"strokeWidth":6,"strokeCap":"round","clip":true},"encoding":{"x":{"field":"x","type":"quantitative","scale":{"domain":[-8.05,4.05],"nice":false,"zero":false}},"y":{"datum":-0.00108,"type":"quantitative","scale":{"domain":[-0.00108,0.00108],"nice":false,"zero":false}},"y2":{"datum":-0.00102}}},
    {"data":{"name":"Hc"},"mark":{"type":"rule","color":"#ee4000","opacity":0.13,"strokeWidth":6,"strokeCap":"round","clip":true},"encoding":{"y":{"field":"y","type":"quantitative","scale":{"domain":[-0.00108,0.00108],"nice":false,"zero":false}},"x":{"datum":-8.05,"type":"quantitative","scale":{"domain":[-8.05,4.05],"nice":false,"zero":false}},"x2":{"datum":-7.69}}},
    {"data":{"values":[{}]},"mark":{"type":"rule","strokeDash":[7,6],"strokeWidth":1.6,"color":"#000000"},"encoding":{"x":{"datum":0,"type":"quantitative","scale":{"domain":[-8.05,4.05],"nice":false,"zero":false}}}},
    {"data":{"values":[{}]},"mark":{"type":"rule","strokeDash":[7,6],"strokeWidth":1.6,"color":"#000000"},"encoding":{"y":{"datum":0,"type":"quantitative","scale":{"domain":[-0.00108,0.00108],"nice":false,"zero":false}}}},
    {"data":{"name":"Hc"},"transform":[{"regression":"y","on":"x"}],"mark":{"type":"line","color":"#3366ff","strokeWidth":3,"clip":true},"encoding":{"x":{"field":"x","type":"quantitative","scale":{"domain":[-8.05,4.05],"nice":false,"zero":false}},"y":{"field":"y","type":"quantitative","scale":{"domain":[-0.00108,0.00108],"nice":false,"zero":false}}}}
  ]},
  {"width":29,"height":154,"data":{"values":[{"t":"High"}]},"mark":{"type":"text","fontSize":18.5,"color":"#1a1a1a","angle":90},"encoding":{"text":{"field":"t"}},"view":{"fill":"#d9d9d9","stroke":"#333333","strokeWidth":1.2}},

  {"width":1,"height":13,"data":{"values":[{}]},"mark":"text","encoding":{"text":{"value":""}},"view":{"stroke":null}},
  {"width":1,"height":13,"data":{"values":[{}]},"mark":"text","encoding":{"text":{"value":""}},"view":{"stroke":null}},
  {"width":1,"height":13,"data":{"values":[{}]},"mark":"text","encoding":{"text":{"value":""}},"view":{"stroke":null}},
  {"width":1,"height":13,"data":{"values":[{}]},"mark":"text","encoding":{"text":{"value":""}},"view":{"stroke":null}},
  {"width":1,"height":13,"data":{"values":[{}]},"mark":"text","encoding":{"text":{"value":""}},"view":{"stroke":null}},
  {"width":1,"height":13,"data":{"values":[{}]},"mark":"text","encoding":{"text":{"value":""}},"view":{"stroke":null}},

  {"width":296,"height":154,"layer":[
    {"data":{"name":"gx"},"mark":{"type":"rule","stroke":"#ebebeb","strokeWidth":0.6},"encoding":{"x":{"field":"x","type":"quantitative","scale":{"domain":[-8.05,4.05],"nice":false,"zero":false}}}},
    {"data":{"name":"gy"},"mark":{"type":"rule","stroke":"#ebebeb","strokeWidth":0.6},"encoding":{"y":{"field":"y","type":"quantitative","scale":{"domain":[-0.00108,0.00108],"nice":false,"zero":false}}}},
    {"data":{"name":"Ma"},"mark":{"type":"circle","size":64,"color":"#000000","opacity":0.33,"clip":true},"encoding":{"x":{"field":"x","type":"quantitative","scale":{"domain":[-8.05,4.05],"nice":false,"zero":false},"axis":{"values":[-4,0,4],"labelExpr":"replace(datum.value + '%', '-', '−')","title":null}},"y":{"field":"y","type":"quantitative","scale":{"domain":[-0.00108,0.00108],"nice":false,"zero":false},"axis":{"values":[-0.001,-0.0005,0,0.0005,0.001],"labelExpr":"replace(format(datum.value, '.4f'), '-', '−')","title":null}}}},
    {"data":{"name":"Ma"},"mark":{"type":"rule","color":"#ee4000","opacity":0.13,"strokeWidth":6,"strokeCap":"round","clip":true},"encoding":{"x":{"field":"x","type":"quantitative","scale":{"domain":[-8.05,4.05],"nice":false,"zero":false}},"y":{"datum":-0.00108,"type":"quantitative","scale":{"domain":[-0.00108,0.00108],"nice":false,"zero":false}},"y2":{"datum":-0.00102}}},
    {"data":{"name":"Ma"},"mark":{"type":"rule","color":"#ee4000","opacity":0.13,"strokeWidth":6,"strokeCap":"round","clip":true},"encoding":{"y":{"field":"y","type":"quantitative","scale":{"domain":[-0.00108,0.00108],"nice":false,"zero":false}},"x":{"datum":-8.05,"type":"quantitative","scale":{"domain":[-8.05,4.05],"nice":false,"zero":false}},"x2":{"datum":-7.69}}},
    {"data":{"values":[{}]},"mark":{"type":"rule","strokeDash":[7,6],"strokeWidth":1.6,"color":"#000000"},"encoding":{"x":{"datum":0,"type":"quantitative","scale":{"domain":[-8.05,4.05],"nice":false,"zero":false}}}},
    {"data":{"values":[{}]},"mark":{"type":"rule","strokeDash":[7,6],"strokeWidth":1.6,"color":"#000000"},"encoding":{"y":{"datum":0,"type":"quantitative","scale":{"domain":[-0.00108,0.00108],"nice":false,"zero":false}}}},
    {"data":{"name":"Ma"},"transform":[{"regression":"y","on":"x"}],"mark":{"type":"line","color":"#3366ff","strokeWidth":3,"clip":true},"encoding":{"x":{"field":"x","type":"quantitative","scale":{"domain":[-8.05,4.05],"nice":false,"zero":false}},"y":{"field":"y","type":"quantitative","scale":{"domain":[-0.00108,0.00108],"nice":false,"zero":false}}}}
  ]},
  {"width":12,"height":1,"data":{"values":[{}]},"mark":"text","encoding":{"text":{"value":""}},"view":{"stroke":null}},
  {"width":296,"height":154,"layer":[
    {"data":{"name":"gx"},"mark":{"type":"rule","stroke":"#ebebeb","strokeWidth":0.6},"encoding":{"x":{"field":"x","type":"quantitative","scale":{"domain":[-8.05,4.05],"nice":false,"zero":false}}}},
    {"data":{"name":"gy"},"mark":{"type":"rule","stroke":"#ebebeb","strokeWidth":0.6},"encoding":{"y":{"field":"y","type":"quantitative","scale":{"domain":[-0.00108,0.00108],"nice":false,"zero":false}}}},
    {"data":{"name":"Mb"},"mark":{"type":"circle","size":64,"color":"#000000","opacity":0.33,"clip":true},"encoding":{"x":{"field":"x","type":"quantitative","scale":{"domain":[-8.05,4.05],"nice":false,"zero":false},"axis":{"values":[-4,0,4],"labelExpr":"replace(datum.value + '%', '-', '−')","title":"Δ RF (ASTRAL − INSTRAL)","titlePadding":10}},"y":{"field":"y","type":"quantitative","scale":{"domain":[-0.00108,0.00108],"nice":false,"zero":false},"axis":{"values":[-0.001,-0.0005,0,0.0005,0.001],"labels":false,"ticks":false,"title":null}}}},
    {"data":{"name":"Mb"},"mark":{"type":"rule","color":"#ee4000","opacity":0.13,"strokeWidth":6,"strokeCap":"round","clip":true},"encoding":{"x":{"field":"x","type":"quantitative","scale":{"domain":[-8.05,4.05],"nice":false,"zero":false}},"y":{"datum":-0.00108,"type":"quantitative","scale":{"domain":[-0.00108,0.00108],"nice":false,"zero":false}},"y2":{"datum":-0.00102}}},
    {"data":{"name":"Mb"},"mark":{"type":"rule","color":"#ee4000","opacity":0.13,"strokeWidth":6,"strokeCap":"round","clip":true},"encoding":{"y":{"field":"y","type":"quantitative","scale":{"domain":[-0.00108,0.00108],"nice":false,"zero":false}},"x":{"datum":-8.05,"type":"quantitative","scale":{"domain":[-8.05,4.05],"nice":false,"zero":false}},"x2":{"datum":-7.69}}},
    {"data":{"values":[{}]},"mark":{"type":"rule","strokeDash":[7,6],"strokeWidth":1.6,"color":"#000000"},"encoding":{"x":{"datum":0,"type":"quantitative","scale":{"domain":[-8.05,4.05],"nice":false,"zero":false}}}},
    {"data":{"values":[{}]},"mark":{"type":"rule","strokeDash":[7,6],"strokeWidth":1.6,"color":"#000000"},"encoding":{"y":{"datum":0,"type":"quantitative","scale":{"domain":[-0.00108,0.00108],"nice":false,"zero":false}}}},
    {"data":{"name":"Mb"},"transform":[{"regression":"y","on":"x"}],"mark":{"type":"line","color":"#3366ff","strokeWidth":3,"clip":true},"encoding":{"x":{"field":"x","type":"quantitative","scale":{"domain":[-8.05,4.05],"nice":false,"zero":false}},"y":{"field":"y","type":"quantitative","scale":{"domain":[-0.00108,0.00108],"nice":false,"zero":false}}}}
  ]},
  {"width":12,"height":1,"data":{"values":[{}]},"mark":"text","encoding":{"text":{"value":""}},"view":{"stroke":null}},
  {"width":296,"height":154,"layer":[
    {"data":{"name":"gx"},"mark":{"type":"rule","stroke":"#ebebeb","strokeWidth":0.6},"encoding":{"x":{"field":"x","type":"quantitative","scale":{"domain":[-8.05,4.05],"nice":false,"zero":false}}}},
    {"data":{"name":"gy"},"mark":{"type":"rule","stroke":"#ebebeb","strokeWidth":0.6},"encoding":{"y":{"field":"y","type":"quantitative","scale":{"domain":[-0.00108,0.00108],"nice":false,"zero":false}}}},
    {"data":{"name":"Mc"},"mark":{"type":"circle","size":64,"color":"#000000","opacity":0.33,"clip":true},"encoding":{"x":{"field":"x","type":"quantitative","scale":{"domain":[-8.05,4.05],"nice":false,"zero":false},"axis":{"values":[-4,0,4],"labelExpr":"replace(datum.value + '%', '-', '−')","title":null}},"y":{"field":"y","type":"quantitative","scale":{"domain":[-0.00108,0.00108],"nice":false,"zero":false},"axis":{"values":[-0.001,-0.0005,0,0.0005,0.001],"labels":false,"ticks":false,"title":null}}}},
    {"data":{"name":"Mc"},"mark":{"type":"rule","color":"#ee4000","opacity":0.13,"strokeWidth":6,"strokeCap":"round","clip":true},"encoding":{"x":{"field":"x","type":"quantitative","scale":{"domain":[-8.05,4.05],"nice":false,"zero":false}},"y":{"datum":-0.00108,"type":"quantitative","scale":{"domain":[-0.00108,0.00108],"nice":false,"zero":false}},"y2":{"datum":-0.00102}}},
    {"data":{"name":"Mc"},"mark":{"type":"rule","color":"#ee4000","opacity":0.13,"strokeWidth":6,"strokeCap":"round","clip":true},"encoding":{"y":{"field":"y","type":"quantitative","scale":{"domain":[-0.00108,0.00108],"nice":false,"zero":false}},"x":{"datum":-8.05,"type":"quantitative","scale":{"domain":[-8.05,4.05],"nice":false,"zero":false}},"x2":{"datum":-7.69}}},
    {"data":{"values":[{}]},"mark":{"type":"rule","strokeDash":[7,6],"strokeWidth":1.6,"color":"#000000"},"encoding":{"x":{"datum":0,"type":"quantitative","scale":{"domain":[-8.05,4.05],"nice":false,"zero":false}}}},
    {"data":{"values":[{}]},"mark":{"type":"rule","strokeDash":[7,6],"strokeWidth":1.6,"color":"#000000"},"encoding":{"y":{"datum":0,"type":"quantitative","scale":{"domain":[-0.00108,0.00108],"nice":false,"zero":false}}}},
    {"data":{"name":"Mc"},"transform":[{"regression":"y","on":"x"}],"mark":{"type":"line","color":"#3366ff","strokeWidth":3,"clip":true},"encoding":{"x":{"field":"x","type":"quantitative","scale":{"domain":[-8.05,4.05],"nice":false,"zero":false}},"y":{"field":"y","type":"quantitative","scale":{"domain":[-0.00108,0.00108],"nice":false,"zero":false}}}}
  ]},
  {"width":29,"height":154,"data":{"values":[{"t":"Moderate"}]},"mark":{"type":"text","fontSize":18.5,"color":"#1a1a1a","angle":90},"encoding":{"text":{"field":"t"}},"view":{"fill":"#d9d9d9","stroke":"#333333","strokeWidth":1.2}}
]
}
